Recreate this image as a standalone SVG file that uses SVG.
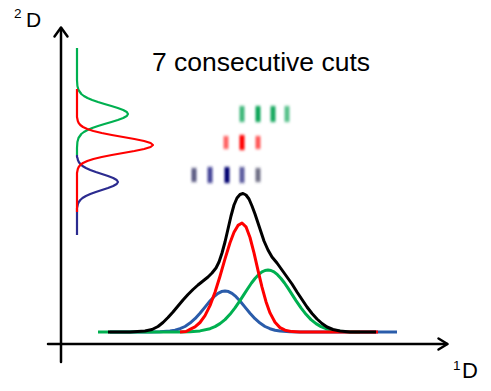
<svg xmlns="http://www.w3.org/2000/svg" width="491" height="391" viewBox="0 0 491 391">
<defs>
<style>
.axis{stroke:#000;stroke-width:2.5;fill:none;stroke-linecap:round;stroke-linejoin:round}
.c{fill:none;stroke-linejoin:round;stroke-linecap:butt}
.m{stroke-width:3}
.v{stroke-width:2.2}
.lbl{font-family:"Liberation Sans",Arial,sans-serif;fill:#000}
</style>
<filter id="blur" x="-100%" y="-50%" width="300%" height="200%"><feGaussianBlur stdDeviation="1 1.8"/></filter>
</defs>
<rect width="491" height="391" fill="#fff"/>

<g id="axes">
<line class="axis" x1="61" y1="362" x2="61" y2="28"/>
<polyline class="axis" points="54.5,36.5 61,27.5 67.5,36.5"/>
<line class="axis" x1="48" y1="344" x2="447" y2="344"/>
<polyline class="axis" points="438.5,338.5 447.5,344 438.5,349.5"/>
</g>

<g id="labels">
<text class="lbl" x="152" y="71" font-size="26.5">7 consecutive cuts</text>
<text class="lbl" x="14" y="18" font-size="13.5">2</text>
<text class="lbl" x="26" y="27" font-size="21">D</text>
<text class="lbl" x="453" y="369.5" font-size="13.5">1</text>
<text class="lbl" x="462" y="378" font-size="22">D</text>
</g>

<g id="vertical-chromatogram">
<polyline class="c v" stroke="#00b050" points="77,48 77,80 77.4,86 78.5,90 81.3,94 83.9,96 87.5,98 92.2,100 98,102 104.5,104 111.4,106 117.8,108 123.2,110 126.8,112 128,114 126.8,116 123.2,118 117.8,120 111.4,122 104.5,124 98,126 92.2,128 87.5,130 83.9,132 81.3,134 78.5,138 77.4,142 77,148 77,155"/>
<polyline class="c v" stroke="#2b2b8f" points="77,155 77,157 77.5,158 77.9,160 78.8,162 80.3,164 82.5,166 85.9,168 90.3,170 95.8,172 101.9,174 108,176 113.2,178 116.7,180 118,182 116.7,184 113.2,186 108,188 101.9,190 95.8,192 90.3,194 85.9,196 82.5,198 80.3,200 78.8,202 77.9,204 77.5,206 77,208 77,235"/>
<polyline class="c v" stroke="#ff0000" points="77,89 77,117 77.8,121 78.7,123 80.3,125 83,127 87.3,129 93.4,131 101.7,133 111.8,135 123.1,137 134.4,139 144.1,141 150.6,143 153,145 150.6,147 144.1,149 134.4,151 123.1,153 111.8,155 101.7,157 93.4,159 87.3,161 83,163 80.3,165 78.7,167 77.8,169 77,173 77,212"/>
</g>

<g id="bands" filter="url(#blur)">
<rect x="239.5" y="106" width="5" height="16" fill="#00a050" opacity="0.75"/>
<rect x="255.5" y="106" width="5" height="16" fill="#00a050" opacity="0.95"/>
<rect x="270.5" y="106" width="5" height="16" fill="#00a050" opacity="0.9"/>
<rect x="284.5" y="106" width="5" height="16" fill="#00a050" opacity="0.65"/>
<rect x="223.5" y="136" width="5" height="13" fill="#ff0000" opacity="0.6"/>
<rect x="239.5" y="135" width="5" height="15" fill="#ff0000" opacity="1"/>
<rect x="255.5" y="136" width="5" height="13" fill="#ff0000" opacity="0.65"/>
<rect x="191.5" y="168" width="5" height="14" fill="#333366" opacity="0.8"/>
<rect x="207.5" y="167" width="5" height="16" fill="#1a1a80" opacity="0.8"/>
<rect x="224.5" y="167" width="5" height="16" fill="#000070" opacity="1"/>
<rect x="239.5" y="167" width="5" height="16" fill="#2a2a80" opacity="0.75"/>
<rect x="255.5" y="168" width="5" height="14" fill="#404060" opacity="0.75"/>
</g>

<g id="main-chromatogram">
<polyline class="c m" stroke="#2a5caa" points="110,332 150,332 160,331.8 170,331.1 175,330.2 180,328.7 185,326.5 190,323.1 195,318.7 200,313.2 205,307.1 210,301 214,296.7 218,293.4 221.5,291.6 225,291 228.5,291.6 232,293.4 236,296.7 240,301 245,307.1 250,313.2 255,318.7 260,323.1 265,326.5 270,328.7 275,330.2 280,331.1 290,331.8 300,332 397,332"/>
<polyline class="c m" stroke="#00b050" points="98,332 180,332 190,331.7 200,330.9 210,328.7 215,326.6 220,323.6 225,319.6 230,314.3 235,307.9 240,300.6 244,294.4 248,288.2 251.5,283 255,278.5 258.5,274.7 262,271.9 265,270.5 268,270 271,270.5 274,271.9 277.5,274.7 281,278.5 284.5,283 288,288.2 292,294.4 296,300.6 301,307.9 306,314.3 311,319.6 316,323.6 321,326.6 326,328.7 336,330.9 346,331.7 356,332 360,332"/>
<polyline class="c m" stroke="#ff0000" points="180,332 186,331.5 190,329.4 195,326.9 200,322.5 205,315.6 210,305.6 215,292.3 220,276.2 225,258.9 230,242.8 234,232.3 238,225.4 242,223 246,226.8 250,237.5 254,252.8 258,270.3 262,287.2 266,301.7 270,312.9 275,322.3 280,327.6 285,330.2 292,331.6 300,332 378,332"/>
<polyline class="c m" stroke="#000" stroke-width="3.3" points="108,332 130,332 145,331 152,329.5 158,326.5 163,322.5 168,317.5 173,312 178,306 183,300 188,294.5 193,289.5 198,285 203,281 208,277 212,273 216,268 219,262 222,253 225,242 228,229 231,216 234,205 237,198 240,194.5 243,193.5 246,195 249,199 252,206 255,214 258,223 261,232 264,241 268,250 272,257 277,263 282,270 287,277 292,284 297,292 302,299.5 307,307 312,313.5 317,319 322,323.5 327,327 333,329.5 340,331 350,332 376,332"/>
</g>
</svg>
